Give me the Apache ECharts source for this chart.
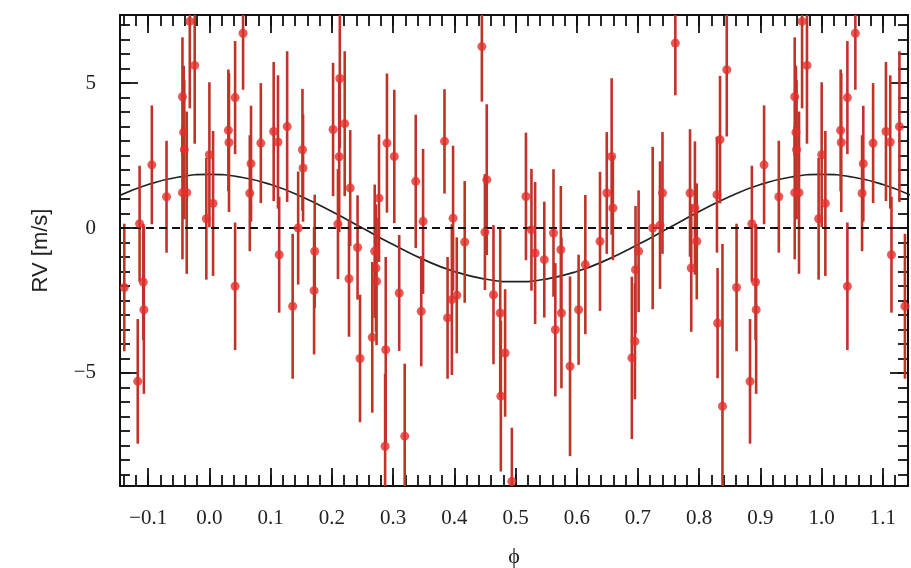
<!DOCTYPE html>
<html>
<head>
<meta charset="utf-8">
<script src="https://cdn.jsdelivr.net/npm/echarts@6/dist/echarts.min.js"></script>
<style>
html,body{margin:0;padding:0;background:#fff;}
#chart{width:911px;height:568px;}
</style>
</head>
<body>
<div id="chart"></div>
<script>
// ---- data (one period, phase-folded) ----
const phase = [
-0.139,-0.117,-0.114,-0.108,-0.107,-0.094,-0.070,-0.044,-0.044,-0.042,-0.041,-0.037,-0.032,-0.024,
-0.005,0.000,0.006,0.031,0.032,0.042,0.042,0.055,0.066,0.068,0.084,0.105,0.112,0.114,0.127,0.136,
0.145,0.152,0.153,0.171,0.172,0.202,0.210,0.212,0.213,0.221,0.228,0.230,0.242,0.246,0.266,0.270,
0.272,0.273,0.277,0.287,0.288,0.290,0.302,0.310,0.319,0.337,0.346,0.349,0.384,0.389,0.396,0.398,
0.404,0.417,0.445,0.450,0.453,0.464,0.475,0.476,0.483,0.494,0.517,0.526,0.532,0.547,0.562,0.565,
0.574,0.575,0.589,0.603,0.614,0.638,0.649,0.657,0.659,0.690,0.695,0.696,0.701,0.724,0.736,0.740,
0.761,0.785,0.787,0.793,0.796,0.829,0.830,0.834,0.838,0.845
];
const rv = [
-2.05,-5.29,0.15,-1.86,-2.82,2.18,1.08,4.53,1.22,3.30,2.70,1.22,7.13,5.61,
0.32,2.53,0.85,3.37,2.95,4.50,-2.01,6.72,1.20,2.22,2.93,3.33,2.97,-0.92,3.50,-2.70,
0.00,2.70,2.07,-2.16,-0.80,3.40,0.14,2.46,5.16,3.60,-1.75,1.38,-0.67,-4.50,-3.77,-0.80,
-1.38,-1.84,1.03,-7.53,-4.20,2.93,2.47,-2.24,-7.18,1.61,-2.87,0.23,2.99,-3.10,-2.47,0.34,
-2.32,-0.48,6.26,-0.14,1.67,-2.30,-2.93,-5.80,-4.31,-8.74,1.09,-0.06,-0.86,-1.09,-0.17,-3.51,
-0.75,-2.93,-4.77,-2.82,-1.26,-0.46,1.21,2.47,0.69,-4.48,-3.91,-1.44,-0.80,0.00,0.10,1.21,
6.38,1.21,-1.38,0.69,-0.46,1.15,-3.28,3.05,-6.15,5.46
];
const rvErr = [
2.2,2.15,2.0,2.0,2.9,2.05,1.93,2.05,2.3,2.3,2.4,2.8,3.0,2.7,
2.1,2.5,2.5,2.1,2.4,1.95,2.2,1.95,2.0,2.0,2.07,2.4,2.3,2.0,2.6,2.5,
1.95,2.1,1.85,2.2,1.95,2.3,1.9,2.6,2.4,2.5,2.0,2.0,1.8,2.2,2.6,2.3,
2.2,2.2,2.2,2.5,3.2,2.4,2.3,2.0,2.5,2.3,1.9,2.5,1.8,2.1,2.6,2.5,
2.0,2.1,1.9,2.0,2.6,2.4,2.9,2.6,2.2,1.85,2.2,2.1,2.45,2.0,2.2,2.3,
2.2,2.6,3.1,1.9,2.4,2.4,2.1,2.7,1.8,2.8,2.0,2.2,2.1,2.8,2.2,2.1,
1.8,2.2,2.2,2.3,2.0,2.0,1.9,2.2,5.6,2.3
];
// model curve
const modelPhase = [-0.15,-0.10,-0.05,0.00,0.05,0.10,0.15,0.20,0.25,0.30,0.35,0.40,0.45,0.50,
                    0.55,0.60,0.65,0.70,0.75,0.80,0.85,0.90,0.95,1.00,1.05,1.10,1.15];
const modelRv = [1.09,1.50,1.76,1.85,1.76,1.50,1.09,0.57,0.00,-0.57,-1.09,-1.50,-1.76,-1.85,
                 -1.76,-1.50,-1.09,-0.57,0.00,0.57,1.09,1.50,1.76,1.85,1.76,1.50,1.09];
// axis ticks
const xMin = -0.146, xMax = 1.141, yMin = -8.9, yMax = 7.35;
const xMajor = [-0.1,0.0,0.1,0.2,0.3,0.4,0.5,0.6,0.7,0.8,0.9,1.0,1.1];
const yMajor = [-5,0,5];
const xMinor = [];
for (let i = -7; i <= 57; i++) { const v = +(i*0.02).toFixed(2); if (v > xMin && v < xMax) xMinor.push(v); }
const yMinor = [];
for (let i = -17; i <= 14; i++) { yMinor.push(i*0.5); }

// phase-folded points shown over the visible range
const pts = [];
for (let i = 0; i < phase.length; i++) {
  pts.push([phase[i], rv[i], rvErr[i]]);
  const p2 = phase[i] + 1;
  if (p2 <= xMax) pts.push([+p2.toFixed(3), rv[i], rvErr[i]]);
}
const model = modelPhase.map((p, i) => [p, modelRv[i]]);

const chart = echarts.init(document.getElementById('chart'), null, {renderer: 'canvas'});
const black = '#111';
const serif = '"Liberation Serif", "DejaVu Serif", serif';
const sans = '"Liberation Sans", Arial, sans-serif';
const fmtX = v => (v < -1e-9 ? '\u2212' : '') + Math.abs(v).toFixed(1);
const fmtY = v => (v < 0 ? '\u2212' + Math.abs(v) : String(v));

function xAx(pos, major, showLabel, showLine) {
  return {
    type: 'value', position: pos, min: xMin, max: xMax, gridIndex: 0,
    name: (showLabel ? 'ϕ' : ''), nameLocation: 'middle', nameGap: 60,
    nameTextStyle: {fontFamily: serif, fontSize: 22, color: '#222'},
    axisLine: {show: showLine, onZero: false, lineStyle: {color: black, width: 2}},
    axisTick: {show: true, inside: true, length: major ? 18 : 11, customValues: major ? xMajor : xMinor,
               lineStyle: {color: black, width: 1.8}},
    axisLabel: {show: showLabel, customValues: xMajor, formatter: fmtX, margin: 22,
                fontFamily: serif, fontSize: 21, color: '#222'},
    splitLine: {show: false}
  };
}
function yAx(pos, major, showLabel, showLine) {
  return {
    type: 'value', position: pos, min: yMin, max: yMax, gridIndex: 0,
    name: (showLabel ? 'RV [m/s]' : ''), nameLocation: 'middle', nameGap: 68,
    nameTextStyle: {fontFamily: sans, fontSize: 22, color: '#222'},
    axisLine: {show: showLine, onZero: false, lineStyle: {color: black, width: 2}},
    axisTick: {show: true, inside: true, length: major ? 18 : 10, customValues: major ? yMajor : yMinor,
               lineStyle: {color: black, width: 1.8}},
    axisLabel: {show: showLabel, customValues: yMajor, formatter: fmtY, margin: 24,
                fontFamily: serif, fontSize: 21, color: '#222'},
    splitLine: {show: false}
  };
}

chart.setOption({
  animation: false,
  backgroundColor: '#fff',
  grid: {left: 120, right: 3, top: 15, bottom: 82, containLabel: false, outerBoundsMode: 'none'},
  xAxis: [xAx('bottom', true, true, true), xAx('bottom', false, false, false),
          xAx('top', true, false, true), xAx('top', false, false, false)],
  yAxis: [yAx('left', true, true, true), yAx('left', false, false, false),
          yAx('right', true, false, true), yAx('right', false, false, false)],
  series: [
    {
      type: 'line', data: model, xAxisIndex: 0, yAxisIndex: 0, smooth: true, showSymbol: false,
      lineStyle: {color: '#222', width: 1.7}, clip: true, silent: true, z: 3,
      markLine: {silent: true, symbol: ['none','none'], label: {show: false},
                 lineStyle: {color: black, type: [8,5], width: 1.8}, data: [{yAxis: 0}]}
    },
    {
      type: 'custom', data: pts, xAxisIndex: 0, yAxisIndex: 0, clip: true, z: 4,
      encode: {x: 0, y: 1},
      renderItem: function (params, api) {
        const x = api.value(0), v = api.value(1), e = api.value(2);
        const a = api.coord([x, v + e]), b = api.coord([x, v - e]);
        return {type: 'line', shape: {x1: a[0], y1: a[1], x2: b[0], y2: b[1]},
                style: {stroke: '#bf3329', lineWidth: 2.6}};
      }
    },
    {
      type: 'scatter', data: pts.map(p => [p[0], p[1]]), xAxisIndex: 0, yAxisIndex: 0,
      symbol: 'circle', symbolSize: 9, clip: true, z: 5,
      itemStyle: {color: '#e2302a'}
    }
  ]
});
</script>
</body>
</html>
